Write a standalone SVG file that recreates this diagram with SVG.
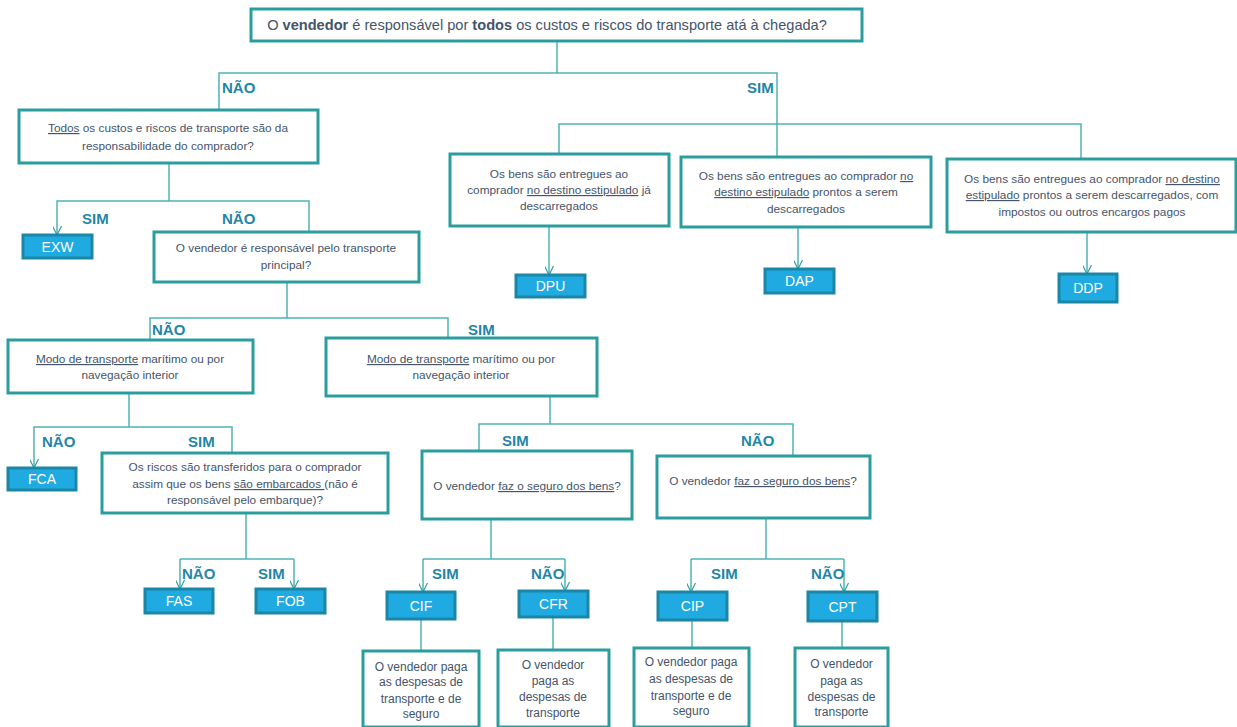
<svg xmlns="http://www.w3.org/2000/svg" width="1237" height="727" viewBox="0 0 1237 727">
<style>
.box{fill:#fff;stroke:#2a9d9f;stroke-width:3}
.leaf{fill:#1faae1;stroke:#1b86a5;stroke-width:3}
.t{font-family:"Liberation Sans",Arial,sans-serif;font-size:11.8px;fill:#44546a;text-anchor:middle}
.d{font-family:"Liberation Sans",Arial,sans-serif;font-size:12px;fill:#44546a;text-anchor:middle}
.top{font-family:"Liberation Sans",Arial,sans-serif;font-size:14.6px;fill:#44546a;text-anchor:middle}
.lt{font-family:"Liberation Sans",Arial,sans-serif;font-size:14px;fill:#fff;text-anchor:middle}
.lab{font-family:"Liberation Sans",Arial,sans-serif;font-size:15px;font-weight:bold;fill:#1f86a8}
.c{fill:none;stroke:#4fb3b5;stroke-width:1.5}
.u{text-decoration:underline}
</style>
<defs>
<marker id="arr" viewBox="0 0 10 10" refX="10" refY="5" markerWidth="9" markerHeight="9" markerUnits="userSpaceOnUse" orient="auto">
<path d="M0,0 L10,5 L0,10" fill="none" stroke="#2a9d9f" stroke-width="1.3"/>
</marker>
</defs>

<g id="connectors">
<path class="c" d="M557,41 V73"/>
<path class="c" d="M219,110 V73 H777 V157"/>
<path class="c" d="M559,154 V124 H1081 V159"/>
<path class="c" d="M169,163 V201"/>
<path class="c" d="M309,232 V201 H57 V235" marker-end="url(#arr)"/>
<path class="c" d="M549,226 V275" marker-end="url(#arr)"/>
<path class="c" d="M798,227 V269" marker-end="url(#arr)"/>
<path class="c" d="M1087,232 V274" marker-end="url(#arr)"/>
<path class="c" d="M287,282 V318"/>
<path class="c" d="M150,340 V318 H448 V338"/>
<path class="c" d="M129,393 V427"/>
<path class="c" d="M232,453 V427 H34 V468" marker-end="url(#arr)"/>
<path class="c" d="M246,513 V559"/>
<path class="c" d="M180,559 H294"/>
<path class="c" d="M180,559 V589" marker-end="url(#arr)"/>
<path class="c" d="M294,559 V589" marker-end="url(#arr)"/>
<path class="c" d="M550,396 V424"/>
<path class="c" d="M479,451 V424 H793 V456"/>
<path class="c" d="M491,519 V559"/>
<path class="c" d="M423,559 H565"/>
<path class="c" d="M423,559 V592" marker-end="url(#arr)"/>
<path class="c" d="M565,559 V591" marker-end="url(#arr)"/>
<path class="c" d="M766,518 V559"/>
<path class="c" d="M691,559 H844"/>
<path class="c" d="M691,559 V592" marker-end="url(#arr)"/>
<path class="c" d="M844,559 V592" marker-end="url(#arr)"/>
<path class="c" d="M421,619 V651"/>
<path class="c" d="M553,617 V650"/>
<path class="c" d="M692,620 V648"/>
<path class="c" d="M842,621 V648"/>
</g>

<g id="labels">
<text class="lab" x="222" y="93">NÃO</text>
<text class="lab" x="747" y="93">SIM</text>
<text class="lab" x="82" y="224">SIM</text>
<text class="lab" x="222" y="224">NÃO</text>
<text class="lab" x="152" y="335">NÃO</text>
<text class="lab" x="468" y="335">SIM</text>
<text class="lab" x="42" y="447">NÃO</text>
<text class="lab" x="188" y="447">SIM</text>
<text class="lab" x="502" y="446">SIM</text>
<text class="lab" x="741" y="446">NÃO</text>
<text class="lab" x="182" y="579">NÃO</text>
<text class="lab" x="258" y="579">SIM</text>
<text class="lab" x="432" y="579">SIM</text>
<text class="lab" x="531" y="579">NÃO</text>
<text class="lab" x="711" y="579">SIM</text>
<text class="lab" x="811" y="579">NÃO</text>
</g>

<g id="n-top">
<rect class="box" x="251" y="9" width="611" height="32"/>
<text class="top" x="547" y="30">O <tspan font-weight="bold">vendedor</tspan> é responsável por <tspan font-weight="bold">todos</tspan> os custos e riscos do transporte atá à chegada?</text>
</g>

<g id="n-todos">
<rect class="box" x="19" y="110" width="299" height="53"/>
<text class="t" x="168" y="132"><tspan class="u">Todos</tspan> os custos e riscos de transporte são da</text>
<text class="t" x="168" y="150">responsabilidade do comprador?</text>
</g>

<g id="n-exw">
<rect class="leaf" x="23" y="235" width="69" height="23"/>
<text class="lt" x="57.5" y="252">EXW</text>
</g>

<g id="n-principal">
<rect class="box" x="154" y="232" width="265" height="50"/>
<text class="t" x="286" y="252">O vendedor é responsável pelo transporte</text>
<text class="t" x="286" y="269">principal?</text>
</g>

<g id="n-dpu-q">
<rect class="box" x="450" y="154" width="219" height="72"/>
<text class="t" x="559" y="178">Os bens são entregues ao</text>
<text class="t" x="559" y="194">comprador <tspan class="u">no destino estipulado</tspan> já</text>
<text class="t" x="559" y="210">descarregados</text>
</g>

<g id="n-dpu">
<rect class="leaf" x="516" y="275" width="69" height="22"/>
<text class="lt" x="550.5" y="291">DPU</text>
</g>

<g id="n-dap-q">
<rect class="box" x="681" y="157" width="250" height="70"/>
<text class="t" x="806" y="180">Os bens são entregues ao comprador <tspan class="u">no</tspan></text>
<text class="t" x="806" y="196"><tspan class="u">destino estipulado</tspan> prontos a serem</text>
<text class="t" x="806" y="213">descarregados</text>
</g>

<g id="n-dap">
<rect class="leaf" x="765" y="269" width="69" height="24"/>
<text class="lt" x="799.5" y="286">DAP</text>
</g>

<g id="n-ddp-q">
<rect class="box" x="947" y="159" width="289" height="73"/>
<text class="t" x="1092" y="183">Os bens são entregues ao comprador <tspan class="u">no destino</tspan></text>
<text class="t" x="1092" y="199"><tspan class="u">estipulado</tspan> prontos a serem descarregados, com</text>
<text class="t" x="1092" y="216">impostos ou outros encargos pagos</text>
</g>

<g id="n-ddp">
<rect class="leaf" x="1059" y="274" width="58" height="28"/>
<text class="lt" x="1088" y="293">DDP</text>
</g>

<g id="n-modo-l">
<rect class="box" x="8" y="340" width="245" height="53"/>
<text class="t" x="130" y="363"><tspan class="u">Modo de transporte</tspan> marítimo ou por</text>
<text class="t" x="130" y="379">navegação interior</text>
</g>

<g id="n-modo-m">
<rect class="box" x="326" y="338" width="271" height="58"/>
<text class="t" x="461" y="363"><tspan class="u">Modo de transporte</tspan> marítimo ou por</text>
<text class="t" x="461" y="379">navegação interior</text>
</g>

<g id="n-fca">
<rect class="leaf" x="8" y="468" width="68" height="22"/>
<text class="lt" x="42" y="484">FCA</text>
</g>

<g id="n-riscos">
<rect class="box" x="102" y="453" width="286" height="60"/>
<text class="t" x="245" y="471">Os riscos são transferidos para o comprador</text>
<text class="t" x="245" y="488">assim que os bens <tspan class="u">são embarcados </tspan>(não é</text>
<text class="t" x="245" y="504">responsável pelo embarque)?</text>
</g>

<g id="n-fas">
<rect class="leaf" x="145" y="589" width="68" height="24"/>
<text class="lt" x="179" y="606">FAS</text>
</g>

<g id="n-fob">
<rect class="leaf" x="256" y="589" width="69" height="24"/>
<text class="lt" x="290.5" y="606">FOB</text>
</g>

<g id="n-seguro-l">
<rect class="box" x="422" y="451" width="210" height="68"/>
<text class="t" x="527" y="490">O vendedor <tspan class="u">faz o seguro dos bens</tspan>?</text>
</g>

<g id="n-seguro-r">
<rect class="box" x="657" y="456" width="213" height="62"/>
<text class="t" x="763" y="485">O vendedor <tspan class="u">faz o seguro dos bens</tspan>?</text>
</g>

<g id="n-cif">
<rect class="leaf" x="387" y="592" width="68" height="27"/>
<text class="lt" x="421" y="611">CIF</text>
</g>

<g id="n-cfr">
<rect class="leaf" x="519" y="591" width="69" height="26"/>
<text class="lt" x="553.5" y="609">CFR</text>
</g>

<g id="n-cip">
<rect class="leaf" x="658" y="592" width="69" height="28"/>
<text class="lt" x="692.5" y="611">CIP</text>
</g>

<g id="n-cpt">
<rect class="leaf" x="808" y="592" width="69" height="29"/>
<text class="lt" x="842.5" y="612">CPT</text>
</g>

<g id="n-cif-d">
<rect class="box" x="363" y="651" width="116" height="76"/>
<text class="d" x="421" y="671">O vendedor paga</text>
<text class="d" x="421" y="686">as despesas de</text>
<text class="d" x="421" y="703">transporte e de</text>
<text class="d" x="421" y="718">seguro</text>
</g>

<g id="n-cfr-d">
<rect class="box" x="498" y="650" width="111" height="77"/>
<text class="d" x="553" y="669">O vendedor</text>
<text class="d" x="553" y="685">paga as</text>
<text class="d" x="553" y="701">despesas de</text>
<text class="d" x="553" y="717">transporte</text>
</g>

<g id="n-cip-d">
<rect class="box" x="634" y="648" width="115" height="79"/>
<text class="d" x="691" y="666">O vendedor paga</text>
<text class="d" x="691" y="683">as despesas de</text>
<text class="d" x="691" y="700">transporte e de</text>
<text class="d" x="691" y="715">seguro</text>
</g>

<g id="n-cpt-d">
<rect class="box" x="795" y="648" width="93" height="79"/>
<text class="d" x="841.5" y="668">O vendedor</text>
<text class="d" x="841.5" y="685">paga as</text>
<text class="d" x="841.5" y="701">despesas de</text>
<text class="d" x="841.5" y="716">transporte</text>
</g>
</svg>
